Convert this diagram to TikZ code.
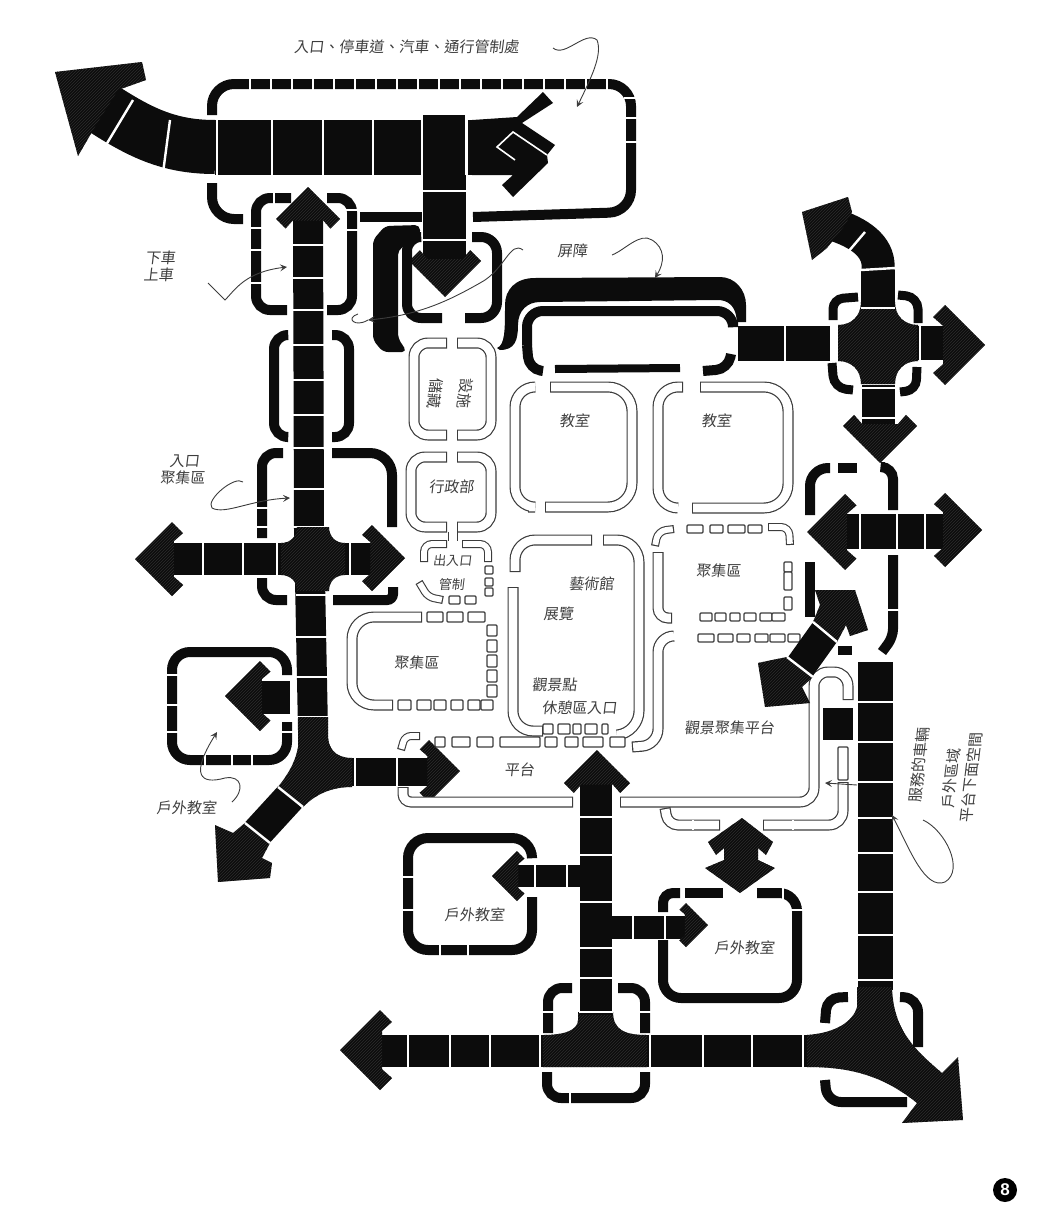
\documentclass[tikz,border=0pt]{standalone}
\usepackage{xcolor}
\usepackage{fontspec}
\newfontfamily\cjk{Noto Sans CJK TC}
\newfontfamily\badgefont{Liberation Sans}
\definecolor{inkBlack}{HTML}{0C0C0C}
\definecolor{inkHatch}{HTML}{2C2C2C}
\definecolor{hollowLine}{HTML}{3C3C3C}
\definecolor{noteGray}{HTML}{3E3E3E}
\usetikzlibrary{
    arrows.meta,
    patterns
}
\tikzset{
    % Black circulation bands, the width is the argument
    road/.style={
        draw=inkBlack,
        line width=#1,
    },
    % Filled arrow heads and junction pieces
    blackpart/.style={
        fill=inkBlack,
        postaction={pattern=north east lines, pattern color=inkHatch},
    },
    % White cut between two blocks
    joint/.style={
        draw=white,
        line width=2.4,
    },
    % Thick black room wall
    wall/.style={
        draw=inkBlack,
        line width=10,
        rounded corners=18,
    },
    % Outlined room wall with closed ends
    hollow/.style={
        draw=hollowLine,
        line width=11,
        rounded corners=14,
        postaction={draw=white, line width=8.6, shorten >=1.2pt, shorten <=1.2pt},
    },
    % The same at the small scale of the chains
    hollowthin/.style={
        draw=hollowLine,
        line width=8,
        rounded corners=8,
        postaction={draw=white, line width=5.8, shorten >=1.2pt, shorten <=1.2pt},
    },
    % Small outlined block in a chain
    cellbox/.style={
        draw=hollowLine,
        fill=white,
        line width=1.2,
        rounded corners=1,
    },
    % Hand drawn pointer lines
    leader/.style={
        draw=hollowLine,
        line width=.9,
        -{Stealth[length=7, width=7, inset=3]},
    },
    % Labels
    note/.style={
        font=\cjk\fontsize{15}{17}\selectfont,
        text=noteGray,
        inner sep=0pt,
        align=center,
        xslant=.12,
        transform shape,
    },
}
% tip x, tip y, direction, half span
\newcommand{\chevronhead}[4]{
    \fill[blackpart, shift={(#1,#2)}, rotate=#3] (0,0) -- (-#4,-#4) -- (-#4*1.3,-#4*.7) -- (-#4*1.05,-#4*.48)
        -- (-#4*1.05,#4*.48) -- (-#4*1.3,#4*.7) -- (-#4,#4) -- cycle;
}
% x, y, half width, half height, fillet
\newcommand{\crossjoin}[5]{
    \fill[blackpart] (#1-#3,#2-#4-#5) .. controls (#1-#3,#2-#4-#5*.4) and (#1-#3-#5*.4,#2-#4) .. (#1-#3-#5,#2-#4)
        -- (#1-#3-#5,#2+#4) .. controls (#1-#3-#5*.4,#2+#4) and (#1-#3,#2+#4+#5*.4) .. (#1-#3,#2+#4+#5)
        -- (#1+#3,#2+#4+#5) .. controls (#1+#3,#2+#4+#5*.4) and (#1+#3+#5*.4,#2+#4) .. (#1+#3+#5,#2+#4)
        -- (#1+#3+#5,#2-#4) .. controls (#1+#3+#5*.4,#2-#4) and (#1+#3,#2-#4-#5*.4) .. (#1+#3,#2-#4-#5) -- cycle;
}
% cuts across a horizontal band: y, half height, list of x
\newcommand{\hticks}[3]{
    \foreach \x in {#3} \draw[joint] (\x,#1-#2) -- (\x,#1+#2);
}
% cuts across a vertical band: x, half width, list of y
\newcommand{\vticks}[3]{
    \foreach \y in {#3} \draw[joint] (#1-#2,\y) -- (#1+#2,\y);
}
% chains of cells: y (or x), half size, list of from/to
\newcommand{\hcells}[3]{
    \foreach \a/\b in {#3} \draw[cellbox] (\a,#1-#2) rectangle (\b,#1+#2);
}
\newcommand{\vcells}[3]{
    \foreach \a/\b in {#3} \draw[cellbox] (#1-#2,\a) rectangle (#1+#2,\b);
}

\begin{document}
\begin{tikzpicture}[x=1pt, y=-1pt]
    \useasboundingbox (0,0) rectangle (1060,1218);

    % entrance court at the top
    \draw[wall, rounded corners=22] (212,115) -- (212,84) -- (631,84) -- (631,212) -- (473,217);
    \draw[wall, rounded corners=22] (212,183) -- (212,219) -- (243,219);
    \draw[wall] (360,217) -- (422,217);
    \hticks{84}{7}{250,271,...,615}
    \vticks{631}{7}{98,118,142}
    \draw[road=55] (472,147) -- (215,147);
    \draw[road=54] (215,147) .. controls (165,147) and (135,130) .. (90,100);
    \fill[blackpart] (55,72) -- (142,62) -- (146,80) -- (118,90) -- (96,125) -- (78,156) -- cycle;
    \draw[joint] (170,120) -- (163,173);
    \draw[joint] (133,100) -- (103,150);
    \hticks{147}{28}{217,272,323,373,467}
    % split head at the end of the court
    \fill[inkBlack] (472,120) -- (517,117) -- (543,92) -- (553,103) -- (522,123) -- (555,145) -- (547,155)
        -- (548,163) -- (513,197) -- (502,185) -- (513,175) -- (472,175) -- cycle;
    \draw[joint, line width=1.6] (515,160) -- (497,147) -- (513,132) -- (547,155);
    % block going down from the court
    \draw[road=43] (444,115) -- (444,270);
    \vticks{444}{23}{191,240}
    \draw[joint] (422,115) -- (422,175);
    \draw[joint] (466,115) -- (466,175);
    \chevronhead{445}{297}{-90}{36}

    % barriers
    \fill[inkBlack, rounded corners=5] (420,225) -- (385,226) -- (373,240) -- (373,340) -- (383,352) -- (407,352) -- (398,338) -- (398,250) -- (420,236) -- cycle;
    \draw[wall, rounded corners=14] (418,237) -- (407,237) -- (407,318) -- (442,318);
    \draw[wall, rounded corners=16] (472,237) -- (497,237) -- (497,318) -- (465,318);
    \fill[inkBlack] (497,348) .. controls (505,345) and (505,330) .. (505,305) .. controls (505,290) and (515,278) .. (535,278)
        -- (720,277) .. controls (735,277) and (746,290) .. (746,305) -- (746,322) -- (737,322) -- (736,315)
        .. controls (734,306) and (728,300) .. (718,300) -- (540,302) .. controls (528,302) and (518,310) .. (518,325)
        .. controls (518,340) and (515,350) .. (500,350) -- cycle;
    \draw[wall, rounded corners=16] (527,345) -- (527,311) -- (733,311) -- (733,322);
    \draw[wall, rounded corners=12] (527,345) -- (529,369) -- (543,371);
    \draw[wall, line width=8] (555,369) -- (680,368);
    \draw[wall, rounded corners=12] (703,371) -- (728,369) -- (731,354);

    % walls beside the main walk
    \draw[wall, rounded corners=14] (291,198) -- (256,198) -- (256,310) -- (287,310);
    \draw[wall, rounded corners=14] (327,198) -- (352,198) -- (352,310) -- (327,310);
    \vticks{256}{7}{228,250,283}
    \vticks{352}{7}{210,230}
    \hticks{198}{7}{274}
    \draw[wall, rounded corners=14] (287,335) -- (274,335) -- (274,437) -- (287,437);
    \draw[wall, rounded corners=14] (332,335) -- (349,335) -- (349,437) -- (332,437);
    \draw[wall, rounded corners=14] (283,453) -- (262,453) -- (262,538);
    \draw[wall, rounded corners=22] (332,453) -- (392,453) -- (392,527);
    \vticks{262}{7}{508,527}
    \draw[wall, rounded corners=14] (262,578) -- (262,600) -- (287,600);
    \draw[wall, rounded corners=6] (333,600) -- (393,600) -- (393,587);
    \draw[wall] (287,675) -- (287,652) -- (172,652) -- (172,760) -- (287,760) -- (287,722);
    \vticks{172}{7}{675,705,732}
    \hticks{760}{7}{205,232,252}
    \vticks{287}{7}{732}

    % main walk
    \draw[road=30] (308,215) -- (309,530) -- (313,730);
    \chevronhead{308}{187}{90}{32}
    \vticks{309}{17}{245,278,310,345,380,415,448,489,527}
    \vticks{313}{17}{595,637,677,717}
    \draw[road=32] (165,559) -- (375,559);
    \crossjoin{313}{559}{16}{16}{16}
    \chevronhead{135}{559}{180}{37}
    \chevronhead{405}{558}{0}{33}
    \hticks{559}{17}{203,243,277,350}
    \fill[blackpart] (298,717) -- (298,747) .. controls (295,765) and (285,778) .. (278,787) -- (303,807)
        .. controls (315,795) and (330,787) .. (352,787) -- (352,758) .. controls (335,758) and (328,748) .. (328,735) -- (328,717) -- cycle;
    \draw[road=32] (290,797) -- (257,833);
    \fill[blackpart] (215,825) -- (218,882) -- (270,878) -- (272,863) -- (262,858) -- (270,843) -- (245,823) -- (233,833) -- cycle;
    \draw[joint] (278,787) -- (303,807);
    \draw[joint] (245,823) -- (270,843);
    \draw[road=28] (352,772) -- (440,772);
    \hticks{772}{16}{355,397}
    \chevronhead{460}{771}{0}{31}
    % branch into the outdoor room on the left
    \draw[road=33] (290,697) -- (255,697);
    \chevronhead{225}{696}{180}{35}
    \draw[joint, line width=3] (293,680) -- (293,714);

    % storage and office rooms
    \draw[hollow] (447,343) -- (414,343) -- (414,435) -- (447,435);
    \draw[hollow] (457,343) -- (491,343) -- (491,435) -- (457,435);
    \draw[hollow] (447,457) -- (411,457) -- (411,527) -- (447,527);
    \draw[hollow] (457,457) -- (491,457) -- (491,527) -- (457,527);
    \draw[hollowLine, line width=1] (448,532) -- (448,541) (457,532) -- (457,541);
    % entrance control
    \draw[hollowthin] (447,544) -- (424,544) -- (424,562);
    \draw[hollowthin] (462,544) -- (488,544) -- (488,562);
    \draw[hollowthin, rounded corners=6] (419,582) -- (428,597) -- (443,600);
    \vcells{489}{4}{566/574,578/586,588/596}
    \hcells{600}{4}{449/460,465/476}
    % gathering area on the left
    \draw[hollow, rounded corners=22] (422,617) -- (352,617) -- (352,705) -- (393,705);
    \hcells{617}{5}{427/443,447/463,468/485}
    \vcells{492}{5}{625/636,640/652,655/667,670/682,685/697}
    \hcells{705}{5}{398/411,417/431,434/446,451/463,468/480,481/493}

    % classrooms
    \draw[hollow, rounded corners=20] (533,387) -- (515,387) -- (515,507) -- (528,507);
    \draw[hollow, rounded corners=24] (550,387) -- (632,387) -- (632,507) -- (545,507);
    \draw[hollow, rounded corners=20] (683,387) -- (658,387) -- (658,508) -- (678,508);
    \draw[hollow, rounded corners=24] (700,387) -- (788,387) -- (788,508) -- (692,508);

    % art gallery
    \draw[hollow, rounded corners=20] (592,540) -- (515,540) -- (515,572);
    \draw[hollow, rounded corners=22] (603,540) -- (639,540) -- (639,733) -- (617,735);
    \draw[hollow, rounded corners=20] (513,587) -- (513,731) -- (543,731);
    \hcells{729}{5}{543/553,558/570,573/581,585/597,602/608}

    % gathering area on the right
    \draw[hollow, rounded corners=10] (672,618) -- (658,618) -- (658,552);
    \draw[hollowthin] (655,546) -- (658,531) -- (674,529);
    \hcells{529}{4}{687/703,710/723,728/745,748/762}
    \draw[hollowthin] (768,527) -- (789,527) -- (790,545);
    \vcells{788}{4}{562/572,572/590,597/610}
    \hcells{617}{4}{700/712,715/726,730/740,744/756,760/772,772/785}
    \hcells{638}{4}{698/714,718/733,737/750,755/768,770/785,788/800}
    \draw[hollow, rounded corners=16] (674,636) -- (658,636) -- (658,745) -- (632,747);

    % platform
    \draw[hollowthin, rounded corners=6] (420,736) -- (405,736) -- (401,750);
    \hcells{742}{5}{435/445,452/470,477/493,500/540,545/557,565/578,583/603,610/625}
    \draw[hollow, rounded corners=8] (573,802) -- (403,802) -- (403,787);
    \draw[hollow, rounded corners=14] (620,802) -- (814,802) -- (814,672) -- (848,672) -- (848,700);
    \vcells{843}{5}{747/780}
    \draw[hollow, rounded corners=14] (843,782) -- (843,825) -- (763,825);
    \draw[hollow, rounded corners=10] (665,808) -- (668,825) -- (720,825);
    \hticks{825}{5}{693,793}

    % east walk and the cross
    \draw[road=35] (738,343) -- (830,343);
    \draw[joint] (785,325) -- (785,361);
    \crossjoin{878}{343}{17}{18}{23}
    \draw[road=34] (878,270) -- (878,307);
    \draw[road=33] (878,270) .. controls (880,250) and (865,235) .. (835,225);
    \fill[blackpart] (802,212) -- (848,197) -- (852,212) -- (845,225) -- (827,248) -- (812,260) -- cycle;
    \draw[joint] (848,252) -- (865,232);
    \draw[joint] (861,270) -- (895,268);
    \draw[joint] (861,308) -- (895,308);
    \draw[road=34] (917,343) -- (960,343);
    \chevronhead{985}{345}{0}{40}
    \draw[joint] (920,325) -- (920,361);
    \draw[joint] (834,325) -- (834,361);
    \draw[road=33] (878,385) -- (878,440);
    \vticks{878}{17}{388,418}
    \chevronhead{880}{463}{-90}{37}
    \draw[wall, line width=9, rounded corners=10] (833,320) -- (833,299) -- (858,297);
    \draw[wall, line width=9, rounded corners=12] (898,295) -- (918,297) -- (918,323);
    \draw[wall, line width=9, rounded corners=12] (832,363) -- (834,388) -- (853,390);
    \draw[wall, line width=9, rounded corners=10] (917,367) -- (916,390) -- (900,392);

    % room with the long arrow
    \draw[wall, rounded corners=18] (830,468) -- (810,468) -- (810,515);
    \draw[wall] (838,468) -- (857,468);
    \draw[wall, rounded corners=12] (885,467) -- (893,467) -- (893,510);
    \draw[wall] (810,562) -- (810,617);
    \draw[wall, rounded corners=8] (893,555) -- (893,637) -- (882,652);
    \vticks{893}{7}{610}
    \draw[road=35] (830,531) -- (950,531);
    \chevronhead{807}{532}{180}{38}
    \chevronhead{982}{530}{0}{37}
    \hticks{531}{18}{860,897,925}
    \draw[road=9] (838,650) -- (852,650);

    % diagonal double arrow
    \draw[road=31] (825,632) -- (800,667);
    \fill[blackpart] (815,590) -- (855,590) -- (868,630) -- (850,636) -- (846,625) -- (837,642) -- (813,622) -- (820,605) -- cycle;
    \fill[blackpart] (758,663) -- (765,707) -- (810,703) -- (802,687) -- (813,677) -- (787,657) -- (772,660) -- cycle;
    \draw[joint] (813,622) -- (837,642);
    \draw[joint] (787,657) -- (813,677);

    % long south walk
    \draw[road=35] (875,662) -- (875,990);
    \vticks{875}{18}{702,742,782,818,853,892,935,980}
    \fill[inkBlack] (823,708) rectangle (853,740);
    \draw[joint] (855,706) -- (855,742);
    % bottom walk
    \draw[road=32] (360,1051) -- (810,1051);
    \chevronhead{340}{1050}{180}{40}
    \hticks{1051}{17}{408,450,490,540,650,703,752,803}
    \fill[blackpart] (578,1012) -- (578,1020) .. controls (578,1030) and (565,1035) .. (543,1035) -- (543,1067) -- (647,1067)
        -- (647,1035) .. controls (625,1035) and (613,1030) .. (613,1012) -- cycle;
    \fill[blackpart] (857,987) -- (857,1007) .. controls (853,1022) and (835,1033) .. (807,1035) -- (807,1067)
        .. controls (845,1067) and (880,1073) .. (917,1103) -- (902,1123) -- (963,1120) -- (958,1057) -- (942,1073)
        .. controls (915,1050) and (893,1030) .. (892,987) -- cycle;
    \draw[wall, rounded corners=12] (825,1023) -- (827,998) -- (848,997);
    \draw[wall, rounded corners=14] (900,997) -- (918,998) -- (918,1047);
    \draw[wall, rounded corners=14] (825,1080) -- (827,1102) -- (907,1102);
    \draw[wall, rounded corners=14] (572,988) -- (548,988) -- (548,1033);
    \draw[wall, rounded corners=14] (618,988) -- (645,988) -- (645,1033);
    \vticks{548}{7}{1012}
    \vticks{645}{7}{1012}
    \draw[wall, rounded corners=14] (547,1072) -- (547,1098) -- (645,1098) -- (645,1072);
    \hticks{1098}{7}{570}

    % central walk and its outdoor rooms
    \draw[wall, rounded corners=20] (532,857) -- (532,838) -- (408,838) -- (408,950) -- (532,950) -- (532,897);
    \vticks{408}{7}{877,910}
    \hticks{950}{7}{440,468}
    \draw[wall, rounded corners=18] (663,940) -- (663,998) -- (797,998) -- (797,893) -- (757,893);
    \draw[wall] (685,893) -- (723,893);
    \draw[wall, rounded corners=10] (680,893) -- (663,893) -- (663,912);
    \hticks{893}{7}{783}
    \vticks{797}{7}{910}
    \draw[road=32] (596,775) -- (596,1015);
    \chevronhead{597}{750}{90}{33}
    \vticks{596}{17}{817,855,902,948,978,1012}
    \draw[road=22] (580,876) -- (515,876);
    \hticks{876}{12}{535,567}
    \chevronhead{492}{876}{180}{25}
    \draw[road=23] (612,927) -- (690,927);
    \hticks{927}{13}{633,665}
    \chevronhead{708}{925}{0}{22}
    % diamond between the outdoor room and the platform
    \fill[blackpart] (742,818) -- (708,842) -- (716,855) -- (724,848) -- (724,860) -- (705,868) -- (740,893) -- (775,868)
        -- (758,860) -- (758,848) -- (766,855) -- (773,842) -- cycle;

    % pointers
    \draw[leader] (553,48) .. controls (565,58) and (585,30) .. (597,40) .. controls (603,55) and (590,80) .. (577,107);
    \draw[leader] (208,283) -- (225,300) .. controls (235,290) and (245,272) .. (287,267);
    \draw[leader] (612,255) .. controls (625,250) and (640,232) .. (652,240) .. controls (665,248) and (665,262) .. (655,278);
    \draw[leader] (523,250) .. controls (510,240) and (505,270) .. (480,283) .. controls (450,300) and (420,315) .. (368,320);
    \draw[leader, -] (368,320) .. controls (355,328) and (345,318) .. (358,314);
    \draw[leader] (243,482) .. controls (235,475) and (205,500) .. (212,508) .. controls (225,515) and (250,500) .. (290,498);
    \draw[leader] (232,802) .. controls (245,790) and (242,775) .. (225,778) .. controls (200,785) and (190,775) .. (217,732);
    \draw[leader] (923,820) .. controls (945,830) and (965,870) .. (945,882) .. controls (925,890) and (910,850) .. (892,815);
    \draw[leader] (857,785) -- (825,783);

    % labels
    \node (parkingnote) [note] at (407,47) {入口、停車道、汽車、通行管制處};
    \node (dropnote) [note] at (160,266) {下車\\上車};
    \node (screennote) [note] at (573,251) {屏障};
    \node (entrynote) [note] at (184,470) {入口\\聚集區};
    \node (storagenote) [note, rotate=-90] at (435,393) {儲藏};
    \node (equipnote) [note, rotate=-90] at (465,393) {設施};
    \node (officenote) [note] at (452,487) {行政部};
    \node (doornote) [note, font=\cjk\fontsize{13}{15}\selectfont] at (453,561) {出入口};
    \node (controlnote) [note, font=\cjk\fontsize{13}{15}\selectfont] at (452,585) {管制};
    \node (gatherleft) [note] at (417,663) {聚集區};
    \node (classone) [note] at (575,421) {教室};
    \node (classtwo) [note] at (717,421) {教室};
    \node (artnote) [note] at (592,584) {藝術館};
    \node (shownote) [note] at (559,614) {展覽};
    \node (viewnote) [note] at (555,685) {觀景點};
    \node (restnote) [note] at (580,708) {休憩區入口};
    \node (gatherright) [note] at (719,571) {聚集區};
    \node (terracenote) [note] at (730,728) {觀景聚集平台};
    \node (platformnote) [note] at (520,770) {平台};
    \node (outleft) [note] at (187,808) {戶外教室};
    \node (outmid) [note] at (475,915) {戶外教室};
    \node (outright) [note] at (745,948) {戶外教室};
    \node (servicenote) [note, rotate=90] at (919,765) {服務的車輛};
    \node (outdoornote) [note, rotate=90] at (951,778) {戶外區域};
    \node (undernote) [note, rotate=90] at (971,777) {平台下面空間};
    \node (badge) [circle, fill=black, text=white, minimum size=24, inner sep=0pt, font=\badgefont\bfseries\fontsize{17}{17}\selectfont] at (1005,1190) {8};
\end{tikzpicture}
\end{document}
